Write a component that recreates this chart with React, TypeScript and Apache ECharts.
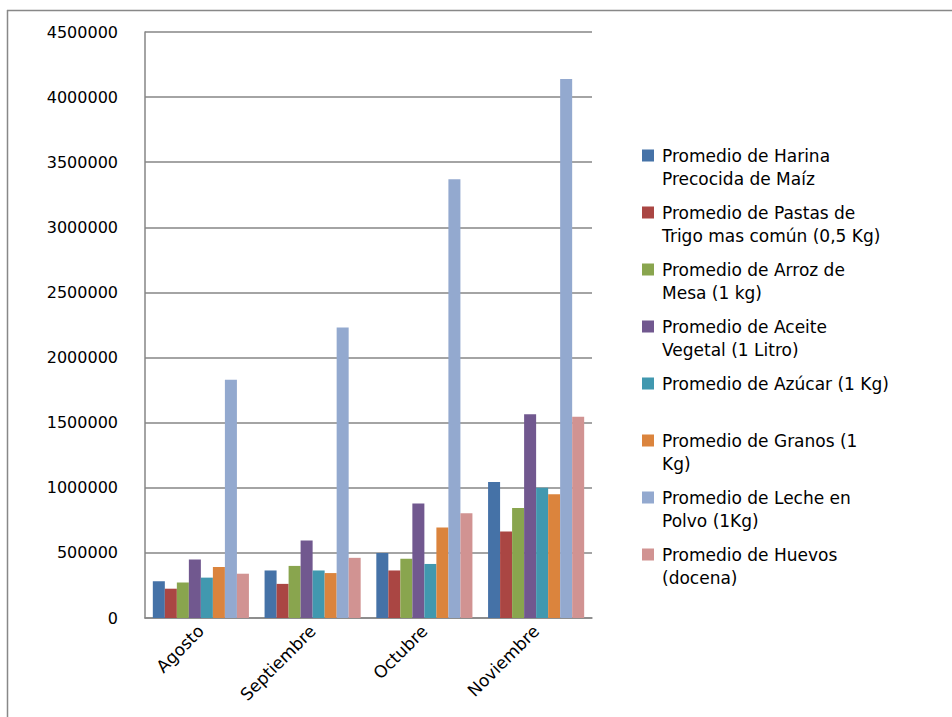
import React, { useEffect, useRef } from "react";
import * as echarts from "echarts";

const months = ["Agosto", "Septiembre", "Octubre", "Noviembre"];
const seriesNames = [
  "Promedio de Harina Precocida de Maíz",
  "Promedio de Pastas de Trigo mas común (0,5 Kg)",
  "Promedio de Arroz de Mesa (1 kg)",
  "Promedio de Aceite Vegetal (1 Litro)",
  "Promedio de Azúcar (1 Kg)",
  "Promedio de Granos (1 Kg)",
  "Promedio de Leche en Polvo (1Kg)",
  "Promedio de Huevos (docena)",
];
const legendLabels = [
  "Promedio de Harina\nPrecocida de Maíz",
  "Promedio de Pastas de\nTrigo mas común (0,5 Kg)",
  "Promedio de Arroz de\nMesa (1 kg)",
  "Promedio de Aceite\nVegetal (1 Litro)",
  "Promedio de Azúcar (1 Kg)\n\u00a0",
  "Promedio de Granos (1\nKg)",
  "Promedio de Leche en\nPolvo (1Kg)",
  "Promedio de Huevos\n(docena)",
];
const harina = [282000, 365000, 500000, 1045000];
const pastas = [225000, 262000, 365000, 665000];
const arroz = [272000, 400000, 455000, 845000];
const aceite = [450000, 595000, 880000, 1565000];
const azucar = [310000, 365000, 415000, 1000000];
const granos = [392000, 345000, 695000, 950000];
const leche = [1830000, 2230000, 3370000, 4140000];
const huevos = [340000, 462000, 805000, 1545000];
const seriesValues = [harina, pastas, arroz, aceite, azucar, granos, leche, huevos];
const colors = ["#4572A7", "#AA4643", "#89A54E", "#71588F", "#4198AF", "#DB843D", "#93A9CF", "#D19392"];
const yTicks = { min: 0, max: 4500000, interval: 500000 };

export default function App() {
  const ref = useRef<HTMLDivElement>(null);
  useEffect(() => {
    if (!ref.current) return;
    const chart = echarts.init(ref.current, undefined, { renderer: "svg" });
    const font = "DejaVu Sans";
    chart.setOption({
      animation: false,
      color: colors,
      textStyle: { fontFamily: font },
      grid: { left: 145, right: 360, top: 32, bottom: 99 },
      legend: {
        orient: "vertical",
        left: 637,
        top: 139,
        itemWidth: 12,
        itemHeight: 35,
        itemGap: 11,
        icon: "path://M0,0L12,0L12,12L0,12Z M0,35L0.01,35",
        itemStyle: { borderWidth: 0 },
        data: seriesNames,
        formatter: (name: string) => legendLabels[seriesNames.indexOf(name)],
        textStyle: {
          fontFamily: font,
          fontSize: 17,
          lineHeight: 23,
          color: "#000",
          padding: [0, 0, 0, 3],
        },
      },
      xAxis: {
        type: "category",
        data: months,
        axisLine: { lineStyle: { color: "#868686", width: 1.5 } },
        axisTick: { show: false },
        axisLabel: { rotate: 45, fontSize: 17, color: "#000", margin: 10, fontFamily: font },
      },
      yAxis: {
        type: "value",
        min: yTicks.min,
        max: yTicks.max,
        interval: yTicks.interval,
        axisLine: { show: true, lineStyle: { color: "#868686", width: 1.5 } },
        axisTick: { show: false },
        splitLine: { lineStyle: { color: "#868686", width: 1.5 } },
        axisLabel: {
          fontSize: 16,
          color: "#000",
          margin: 27,
          fontFamily: font,
          formatter: (v: number) => String(v),
        },
      },
      series: seriesNames.map((n, i) => ({
        name: n,
        type: "bar",
        data: seriesValues[i],
        barGap: "0%",
        barCategoryGap: "14%",
        itemStyle: { color: colors[i] },
      })),
      graphic: [
        { type: "line", shape: { x1: 7, y1: 10.5, x2: 952, y2: 10.5 }, style: { stroke: "#888", lineWidth: 1.5 } },
        { type: "line", shape: { x1: 7.5, y1: 10, x2: 7.5, y2: 717 }, style: { stroke: "#888", lineWidth: 1.5 } },
      ],
    });
    return () => chart.dispose();
  }, []);
  return (
    <div
      ref={ref}
      style={{ position: "fixed", left: 0, top: 0, width: 952, height: 717, background: "#fff" }}
    />
  );
}
